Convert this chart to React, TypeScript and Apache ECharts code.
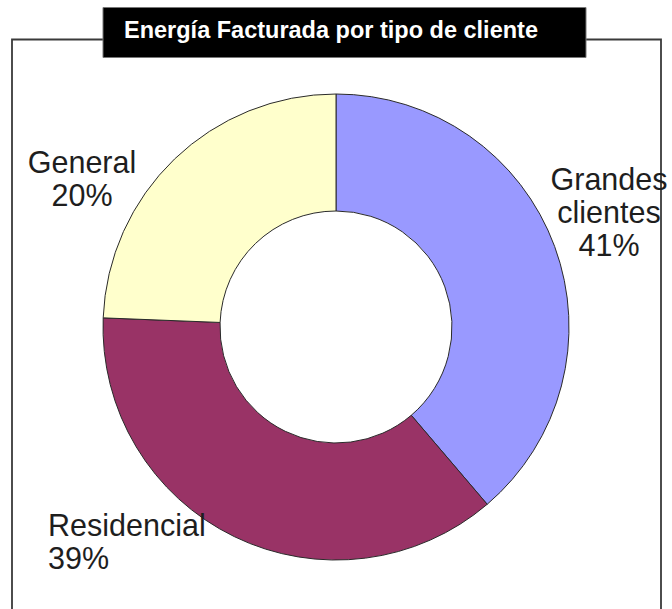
import React, { useEffect, useRef } from "react";
import * as echarts from "echarts";

// Categories in drawing order (clockwise from 12 o'clock)
const categories = ["Grandes clientes", "Residencial", "General"];
const sliceShares = [38.8, 36.9, 24.4];
// Percentages printed on the chart labels
const printedPercents = ["41%", "39%", "20%"];
// Label text lines (category name as wrapped in the chart)
const labelNames = ["Grandes\nclientes", "Residencial", "General"];
const sliceColors = ["#9999FF", "#993366", "#FFFFCC"];

const titleText = "Energía Facturada por tipo de cliente";

// label placement (layout only)
const labelPlacement = [
  { x: 609, y: 212, align: "center" },
  { x: 48, y: 541, align: "left" },
  { x: 82, y: 178, align: "center" },
];

export default function App() {
  const ref = useRef<HTMLDivElement>(null);
  useEffect(() => {
    if (!ref.current) return;
    const chart = echarts.init(ref.current, undefined, { renderer: "svg" });
    chart.setOption({
      animation: false,
      backgroundColor: "#ffffff",
      title: {
        text: titleText,
        left: 124,
        top: 18,
        padding: 0,
        textStyle: {
          color: "#ffffff",
          fontFamily: "Liberation Sans",
          fontWeight: "bold",
          fontSize: 23.5,
        },
        z: 20,
      },
      graphic: [
        {
          type: "rect",
          z: 0,
          shape: { x: 12, y: 39.5, width: 649, height: 620 },
          style: { fill: "none", stroke: "#3a3a3a", lineWidth: 1.8 },
        },
        {
          type: "rect",
          z: 10,
          shape: { x: 103, y: 7.5, width: 483, height: 50 },
          style: { fill: "#000000", stroke: "#777777", lineWidth: 1 },
        },
      ],
      series: [
        {
          type: "pie",
          center: [336, 327],
          radius: [116, 233],
          startAngle: 90,
          clockwise: true,
          silent: true,
          avoidLabelOverlap: false,
          itemStyle: { borderColor: "#2a2a2a", borderWidth: 1 },
          label: {
            show: true,
            position: "outside",
            formatter: (p: any) => `${labelNames[p.dataIndex]}\n${printedPercents[p.dataIndex]}`,
            fontFamily: "Liberation Sans",
            fontSize: 30.5,
            lineHeight: 33,
            color: "#1e1e1e",
          },
          labelLine: { show: false },
          labelLayout: (params: any) => {
            const pl = labelPlacement[params.dataIndex];
            return { x: pl.x, y: pl.y, align: pl.align, verticalAlign: "middle" };
          },
          data: categories.map((c, i) => ({
            name: c,
            value: sliceShares[i],
            itemStyle: { color: sliceColors[i] },
          })),
        },
      ],
    });
    return () => chart.dispose();
  }, []);
  return (
    <div
      ref={ref}
      style={{ position: "fixed", left: 0, top: 0, width: 672, height: 609 }}
    />
  );
}
